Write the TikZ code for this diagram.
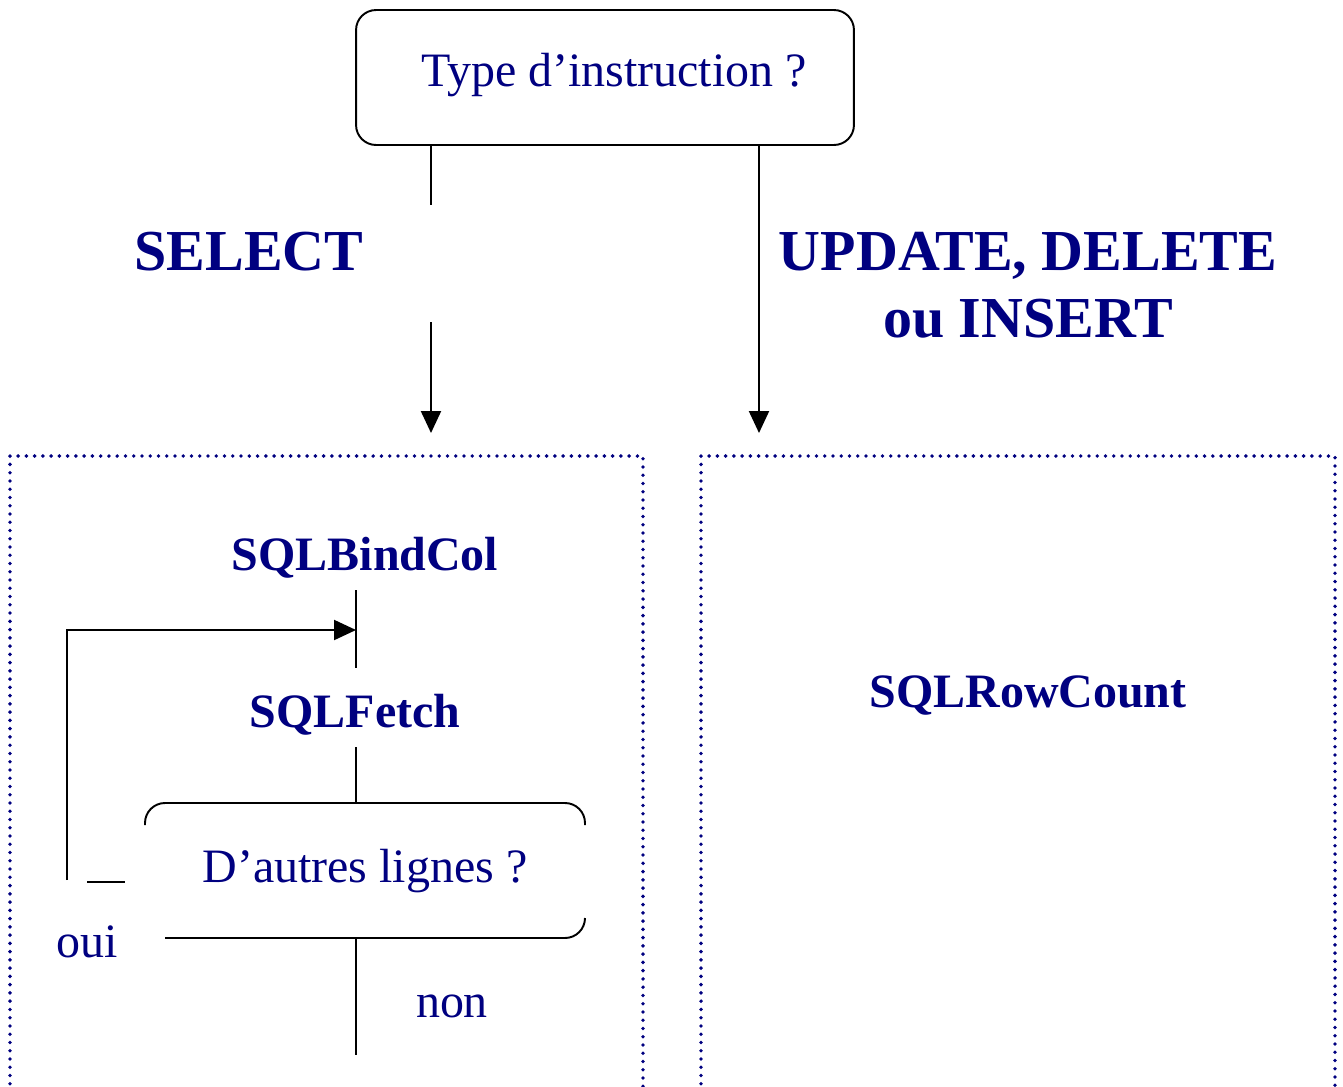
\documentclass[tikz,border=0pt]{standalone}
\usepackage{fontspec}
\setmainfont{Liberation Serif}
\usetikzlibrary{arrows.meta,positioning,calc}
\definecolor{cNavy}{HTML}{000080}
\tikzset{
  lbl/.style  = {text=cNavy, inner sep=0pt, anchor=base,
                 font=\fontsize{27.3}{31}\selectfont},
  lblB/.style = {lbl, font=\fontsize{27.3}{31}\selectfont\bfseries},
  big/.style  = {lbl, font=\fontsize{33}{38}\selectfont\bfseries},
  wire/.style = {black, line width=1.1pt},
  arr/.style  = {wire, -{Triangle[length=12.5pt, width=11.4pt]}},
  qbox/.style = {draw, line width=1.1pt, rounded corners=0.4cm,
                 minimum width=9.96cm, minimum height=2.7cm, inner sep=0pt},
  zone/.style = {cNavy, line width=2.2pt, line cap=round,
                 dash pattern=on 0pt off 4.7pt},
}
\begin{document}
\begin{tikzpicture}[x=0.02cm, y=-0.02cm]
  \useasboundingbox (0,0) rectangle (1343,1086);
  % question box
  \node[qbox] (typebox) at (605,77.5) {};
  \node[lbl] (typetxt) at (614,86) {Type d’instruction ?};
  \node[big] (select) at (249,270) {SELECT};
  \node[big] (upd) at (1028,270) {UPDATE, DELETE};
  \node[big] (ins) at (1028,337) {ou INSERT};
  % the two branches
  \coordinate (selgap) at (431,205);
  \coordinate (selres) at (431,322);
  \coordinate (selin) at (431,433);
  \coordinate (updin) at (759,433);
  \draw[wire] (typebox.south -| selin) -- (selgap);
  \draw[arr] (selres) -- (selin);
  \draw[arr] (typebox.south -| updin) -- (updin);
  % dotted zones, open at the bottom
  \draw[zone] (10,1092) -- (10,456) -- (643,456) -- (643,1092);
  \draw[zone] (701,1092) -- (701,456) -- (1335,456) -- (1335,1092);
  % SELECT side
  \node[lblB] (bind) at (365,570) {SQLBindCol};
  \node[lblB] (fetch) at (355,727) {SQLFetch};
  \node[lbl] (autres) at (365,882) {D’autres lignes ?};
  \node[lbl] (oui) at (87,957) {oui};
  \node[lbl] (non) at (452,1017) {non};
  \coordinate (bindout) at (356,590);
  \coordinate (fetchin) at (356,668);
  \coordinate (fetchout) at (356,747);
  \coordinate (loopin) at (356,630);
  \coordinate (loopout) at (67,880);
  \draw[wire] (bindout) -- (fetchin);
  \draw[arr] (loopout) |- (loopin);
  \draw[wire] (fetchout) -- (fetchout |- 0,803);
  \draw[wire] (87,882) -- (125,882);
  \draw[wire, rounded corners=0.4cm] (145,825) -- (145,803) -- (585,803) -- (585,825);
  \draw[wire, rounded corners=0.4cm] (165,938) -- (585,938) -- (585,918);
  \draw[wire] (356,938) -- (356,1055);
  % UPDATE side
  \node[lblB] (rowcount) at (1028,707) {SQLRowCount};
\end{tikzpicture}
\end{document}
